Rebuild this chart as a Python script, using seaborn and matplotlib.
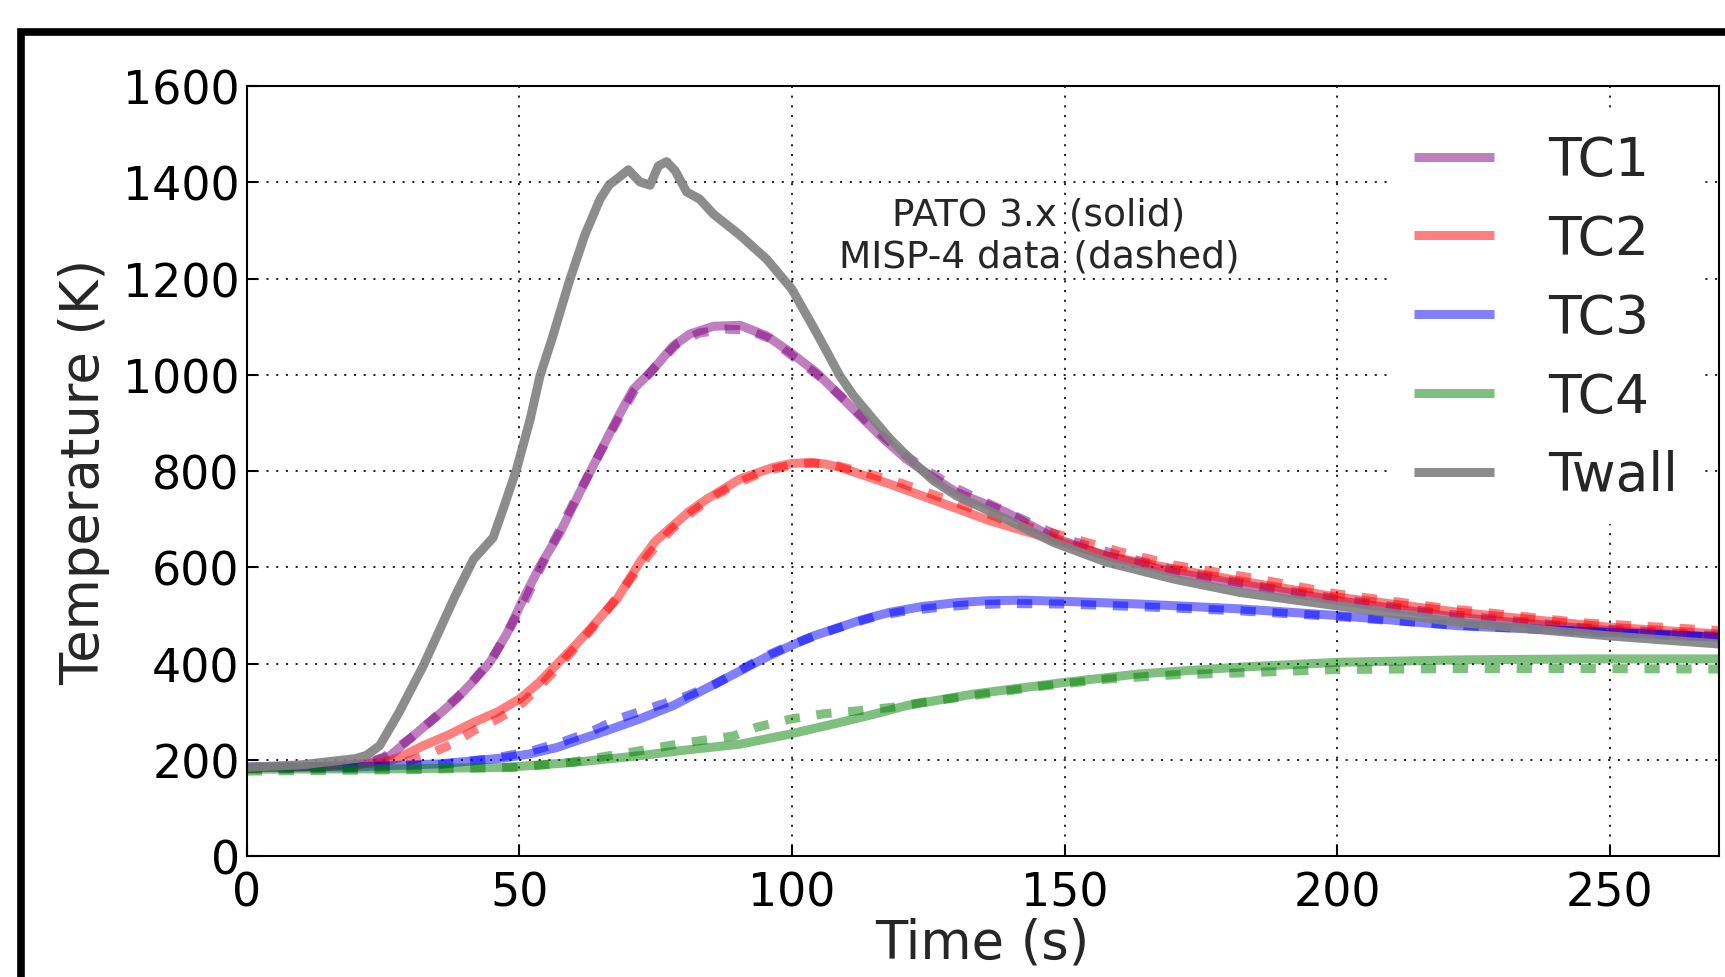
import matplotlib
matplotlib.use("Agg")
import matplotlib.pyplot as plt
import seaborn as sns
from matplotlib.patches import Rectangle

# PATO 3.x simulation (solid)
twall_t = [0, 10, 20, 22, 24.4, 28, 32.4, 38.2, 41.6, 45.2, 47, 49.5, 52, 53.8, 56, 59.3, 62, 64.8,
           66.5, 67.9, 70, 72.1, 74, 75.5, 77, 78.6, 80.7, 83.1, 85.6, 90.5, 95.4, 100, 104.5, 108.8,
           111.3, 114.9, 118, 122.3, 126, 130.2, 139.4, 148, 157.7, 170, 182.2, 200.2, 222.2, 249.7, 270]
twall_T = [185, 190, 203, 210, 230, 300, 396, 540, 617, 662, 720, 804, 908, 998, 1075, 1199, 1290, 1365,
           1395, 1407, 1426, 1401, 1394, 1434, 1443, 1424, 1380, 1365, 1334, 1290, 1240, 1178, 1088, 998,
           957, 908, 867, 818, 780, 749, 700, 652, 611, 576, 548, 520, 486, 458, 441]

tc1_t = [0, 10, 20, 23, 26.3, 29, 32.4, 35.5, 38.5, 41.5, 44.6, 47.7, 50.7, 53.8, 57.5, 61.1, 64.8, 67.9,
         70.9, 74.6, 78.2, 81.3, 85.6, 90.5, 95.4, 99.7, 104.5, 108.8, 113.1, 117, 121, 125.5, 130.2,
         139.4, 148, 157.7, 170, 182.2, 200.2, 222.2, 249.7, 270]
tc1_T = [185, 186, 190, 196, 209, 235, 268, 297, 327, 363, 403, 462, 534, 603, 673, 756, 839, 908,
         970, 1012, 1060, 1085, 1101, 1103, 1081, 1047, 1005, 957, 908, 865, 825, 790, 756,
         714, 662, 624, 590, 565, 531, 496, 469, 455]

tc2_t = [0, 15, 25, 28, 32.4, 37, 41.6, 46, 50.1, 53.5, 56.9, 60, 63, 65.5, 67.9, 72.1, 75, 78.2, 81,
         84.4, 90.5, 96.6, 100, 103.3, 106, 108.8, 113, 118, 127.2, 136.3, 146.7, 157.7, 170, 182.2,
         200.2, 222.2, 249.7, 270]
tc2_T = [185, 187, 195, 205, 230, 252, 278, 300, 327, 360, 399, 435, 472, 505, 534, 611, 655, 687, 715,
         742, 784, 808, 816, 818, 815, 808, 792, 773, 735, 697, 662, 624, 597, 572,
         538, 507, 476, 462]

tc3_t = [0, 20, 35.4, 47.7, 52, 56.9, 61, 66, 72, 78.2, 84, 90.5, 95, 99.7, 104, 108.8, 113, 118, 124,
         130.2, 136, 142.4, 151.6, 163.8, 182.2, 200.2, 222.2, 249.7, 270]
tc3_T = [185, 186, 192, 205, 213, 226, 242, 261, 285, 313, 347, 385, 412, 437, 458, 476, 492, 507, 519,
         527, 531, 532, 529, 524, 514, 500, 479, 465, 455]

tc4_t = [0, 30, 47.7, 59.9, 72.1, 80, 90.5, 99.7, 108.8, 115, 121, 133.3, 149.8, 163.8, 182.2, 200.2,
         222.2, 245, 270]
tc4_T = [181, 182, 185, 195, 209, 220, 233, 254, 278, 295, 313, 337, 361, 379, 393, 403,
         408, 410, 410]

# MISP-4 thermocouple data (dashed)
d1_t = [0, 10, 20, 25, 30, 35, 40, 45, 48, 51, 55, 60, 65, 68, 71, 75, 79, 83, 88, 92, 96, 100, 105,
        110, 115, 120, 125, 130, 140, 150, 160, 170, 185, 200, 220, 245, 270]
d1_T = [183, 184, 188, 205, 245, 293, 345, 410, 468, 530, 625, 735, 842, 905, 965, 1018, 1065, 1087,
        1095, 1093, 1075, 1040, 997, 945, 890, 840, 800, 765, 712, 660, 625, 595, 562, 535, 503, 475, 458]

d2_t = [0, 20, 28, 33, 38, 41.6, 46, 50, 54, 58, 62, 66, 70, 74, 78, 82, 86, 90, 95, 100, 104, 108,
        113, 120, 130, 140, 150, 160, 170, 185, 200, 220, 245, 270]
d2_T = [183, 185, 192, 210, 235, 261, 285, 313, 355, 405, 455, 510, 570, 630, 680, 718, 750, 775, 800,
        813, 817, 812, 798, 775, 735, 695, 665, 633, 605, 577, 545, 515, 485, 469]

d3_t = [0, 20, 35, 45, 52, 58, 63, 68, 74, 80, 86, 91, 96, 100, 105, 110, 115, 120, 126, 132, 140,
        150, 163, 182, 200, 222, 249, 270]
d3_T = [183, 184, 190, 203, 218, 238, 258, 285, 308, 330, 358, 390, 420, 440, 461, 480, 497, 508, 516,
        522, 525, 524, 519, 510, 498, 480, 465, 455]

d4_t = [0, 30, 50, 60, 66, 72, 80, 89.3, 93.5, 99.7, 105.8, 111.9, 118, 124.1, 133.3, 145.5, 157.7,
        170, 182.2, 200, 222, 245, 270]
d4_T = [177, 180, 185, 196, 208, 219, 235, 250, 268, 285, 296, 302, 309, 320, 334, 353, 368,
        377, 381, 388, 390, 390, 389]

labels = ["TC1", "TC2", "TC3", "TC4", "Twall"]
colors = ["purple", "red", "blue", "green", "gray"]

sns.set_style("ticks")
plt.rcParams["font.family"] = ["DejaVu Sans"]
plt.rcParams["lines.scale_dashes"] = False
plt.rcParams["lines.solid_capstyle"] = "butt"
plt.rcParams["lines.dash_capstyle"] = "butt"

fig = plt.figure(figsize=(17.25, 9.78), dpi=100)
ax = fig.add_axes([0.1430, 0.1234, 0.8534, 0.7876])

lw = 6.5
sims = [(tc1_t, tc1_T), (tc2_t, tc2_T), (tc3_t, tc3_T), (tc4_t, tc4_T)]
datas = [(d1_t, d1_T), (d2_t, d2_T), (d3_t, d3_T), (d4_t, d4_T)]
for (st, sT), (dt, dT), c, lab in zip(sims, datas, colors, labels):
    sns.lineplot(x=st, y=sT, ax=ax, color=c, lw=lw, alpha=0.5, label=lab, legend=False)
    sns.lineplot(x=dt, y=dT, ax=ax, color=c, lw=lw, alpha=0.5, linestyle=(0, (11, 12)), legend=False)
sns.lineplot(x=twall_t, y=twall_T, ax=ax, color="gray", lw=lw, alpha=0.9, label="Twall", legend=False)

ax.set_xlim(0, 270)
ax.set_ylim(0, 1600)
ax.set_xticks([0, 50, 100, 150, 200, 250])
ax.set_yticks(range(0, 1601, 200))
ax.grid(True, color="k", lw=1.2, linestyle=(0, (1.5, 5.5)))
for s in ax.spines.values():
    s.set_visible(True)
    s.set_linewidth(1.5)
    s.set_color("k")
ax.tick_params(axis="both", direction="in", length=8, width=1.5, labelsize=33, colors="k")
ax.tick_params(axis="x", pad=10)
ax.tick_params(axis="y", pad=5)
ax.set_xlabel("Time (s)", fontsize=38, labelpad=1)
ax.set_ylabel("Temperature (K)", fontsize=38, labelpad=9)

ax.text(145.3, 1290, "PATO 3.x (solid)\nMISP-4 data (dashed)", ha="center", va="center",
        fontsize=27, multialignment="center")

handles = [l for l in ax.get_lines() if not l.get_label().startswith("_")]
leg = ax.legend(handles=handles, loc="center", bbox_to_anchor=(0.8825, 0.699), fontsize=38.5,
                handlelength=1.5, handletextpad=1.0, labelspacing=0.5, borderpad=0.4,
                frameon=True, fancybox=False, framealpha=1.0)
leg.get_frame().set_edgecolor("white")
leg.get_frame().set_facecolor("white")

# thick outer frame around the figure
fig.add_artist(Rectangle((0.0119, -0.2), 1.5, 0.9663 + 0.2, transform=fig.transFigure,
                         fill=False, lw=5.5, ec="k", clip_on=False))

fig.savefig("out.png", dpi=100)
